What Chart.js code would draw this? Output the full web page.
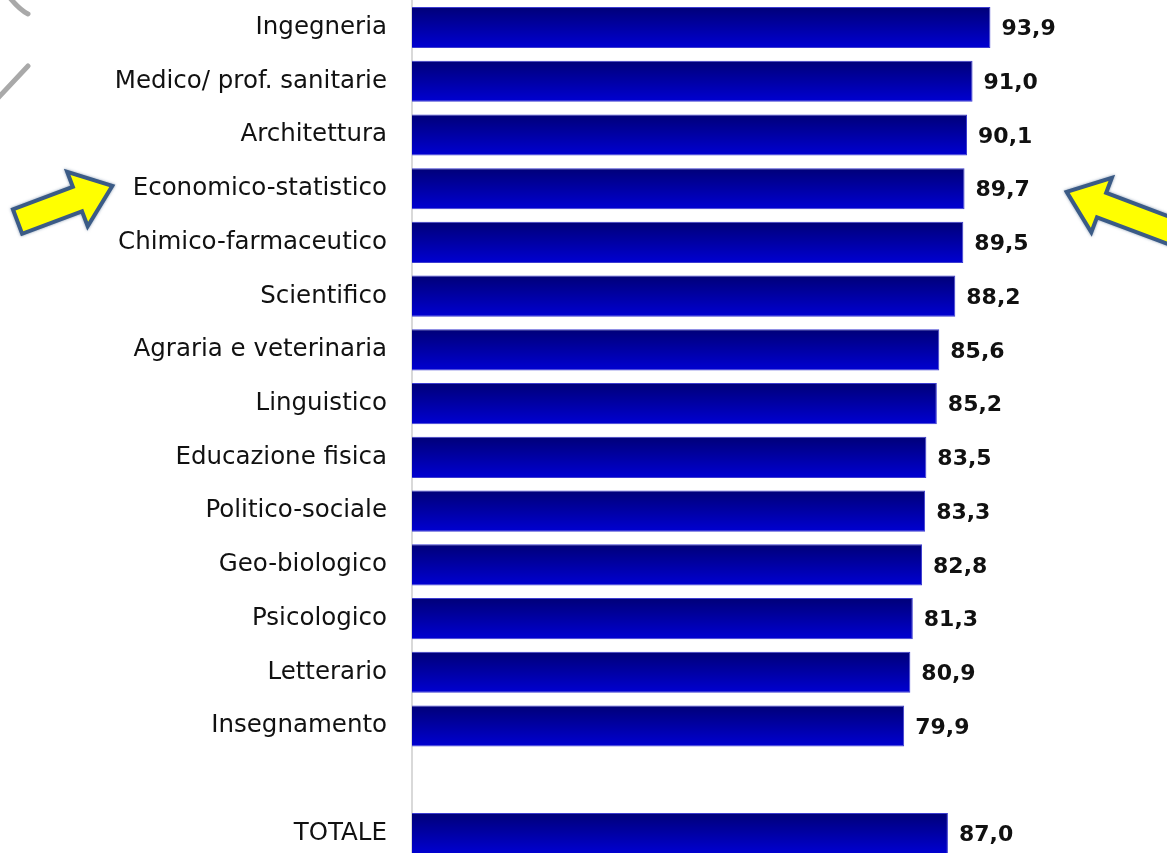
<!DOCTYPE html>
<html lang="it">
<head>
<meta charset="utf-8">
<title>Gruppi disciplinari</title>
<script src="https://cdn.jsdelivr.net/npm/chart.js@4.4.1/dist/chart.umd.min.js"></script>
<style>
  html, body { margin: 0; padding: 0; background: #fff; overflow: hidden; }
  #wrap { position: relative; width: 1167px; height: 861px; }
</style>
</head>
<body>
<div id="wrap"><canvas id="chart"></canvas></div>
<script>
// Data
const categories = [
    'Ingegneria', 'Medico/ prof. sanitarie', 'Architettura', 'Economico-statistico',
    'Chimico-farmaceutico', 'Scientifico', 'Agraria e veterinaria', 'Linguistico',
    'Educazione fisica', 'Politico-sociale', 'Geo-biologico', 'Psicologico',
    'Letterario', 'Insegnamento', '', 'TOTALE'
];
const values = [93.9, 91.0, 90.1, 89.7, 89.5, 88.2, 85.6, 85.2, 83.5, 83.3, 82.8, 81.3, 80.9, 79.9, null, 87.0];
const highlighted = 'Economico-statistico';
const axisMin = 0;
const axisMax = 100;

const FONT = '"DejaVu Sans", Verdana, sans-serif';

function fmt(v) {
    return v.toFixed(1).replace('.', ',');
}

// Vertical gradient per bar
function barGradient(context) {
    const chart = context.chart;
    const yScale = chart.scales.y;
    if (!chart.chartArea || !yScale) return '#0000a8';
    const y = yScale.getPixelForValue(context.dataIndex);
    const half = (yScale.height / categories.length) * 0.765 / 2;
    const g = chart.ctx.createLinearGradient(0, y - half, 0, y + half);
    g.addColorStop(0, '#000078');
    g.addColorStop(1, '#0000d2');
    return g;
}

// Value labels at the end of each bar
const valueLabels = {
    id: 'valueLabels',
    afterDatasetsDraw(chart) {
        const ctx = chart.ctx;
        const meta = chart.getDatasetMeta(0);
        ctx.save();
        ctx.font = 'bold 22px ' + FONT;
        ctx.fillStyle = '#111';
        ctx.textBaseline = 'middle';
        ctx.textAlign = 'left';
        meta.data.forEach(function(bar, i) {
            if (values[i] === null) return;
            ctx.fillText(fmt(values[i]), bar.x + 11, bar.y + 2);
        });
        ctx.restore();
    }
};

// Arrow pointing at (tipX, tipY), coming from given angle
function drawArrow(ctx, tipX, tipY, angle, length) {
    const headLen = 36, headHalf = 25, shaftHalf = 11;
    ctx.save();
    ctx.translate(tipX, tipY);
    ctx.rotate(angle);
    ctx.beginPath();
    ctx.moveTo(-4, 0);
    ctx.lineTo(-headLen, -headHalf);
    ctx.lineTo(-headLen, -shaftHalf);
    ctx.lineTo(-length, -shaftHalf);
    ctx.lineTo(-length, shaftHalf);
    ctx.lineTo(-headLen, shaftHalf);
    ctx.lineTo(-headLen, headHalf);
    ctx.closePath();
    ctx.shadowColor = 'rgba(60, 90, 130, 0.6)';
    ctx.shadowBlur = 3;
    ctx.lineJoin = 'miter';
    ctx.lineWidth = 8;
    ctx.strokeStyle = '#3b5b86';
    ctx.stroke();
    ctx.shadowBlur = 0;
    ctx.fillStyle = '#ffff00';
    ctx.fill();
    ctx.restore();
}

// Decorations: highlight arrows and grey marks in the corner
const decorations = {
    id: 'decorations',
    afterDraw(chart) {
        const ctx = chart.ctx;
        const idx = categories.indexOf(highlighted);
        const y = chart.scales.y.getPixelForValue(idx);

        ctx.save();
        ctx.strokeStyle = '#a9a9a9';
        ctx.lineWidth = 5;
        ctx.lineCap = 'round';
        ctx.beginPath();
        ctx.moveTo(10, -2);
        ctx.quadraticCurveTo(20, 10, 28, 14);
        ctx.stroke();
        ctx.beginPath();
        ctx.moveTo(-2, 98);
        ctx.lineTo(28, 66);
        ctx.stroke();
        ctx.restore();

        drawArrow(chart.ctx, 113, y - 3, -0.36, 100);
        drawArrow(chart.ctx, 1066, y + 3, Math.PI + 0.36, 120);
    }
};

new Chart(document.getElementById('chart'), {
    type: 'bar',
    data: {
        labels: categories,
        datasets: [{
            data: values,
            backgroundColor: barGradient,
            borderColor: '#3c3cd0',
            borderWidth: 1,
            borderSkipped: 'start',
            barPercentage: 0.765,
            categoryPercentage: 1
        }]
    },
    options: {
        indexAxis: 'y',
        responsive: true,
        maintainAspectRatio: false,
        animation: false,
        layout: {
            padding: { top: 0, right: 139, bottom: 0, left: 0 }
        },
        plugins: {
            legend: { display: false },
            tooltip: { enabled: false }
        },
        scales: {
            x: {
                display: false,
                min: axisMin,
                max: axisMax
            },
            y: {
                // tick marks hidden but used as label spacing
                grid: { display: false, drawTicks: true, tickLength: 25 },
                border: { display: true, color: '#d9d9d9', width: 2 },
                ticks: {
                    color: '#111',
                    padding: 0,
                    font: { family: FONT, size: 24.5, lineHeight: 0.05 }
                },
                afterFit: function(scale) {
                    scale.width = 412;
                }
            }
        }
    },
    plugins: [valueLabels, decorations]
});
</script>
</body>
</html>
